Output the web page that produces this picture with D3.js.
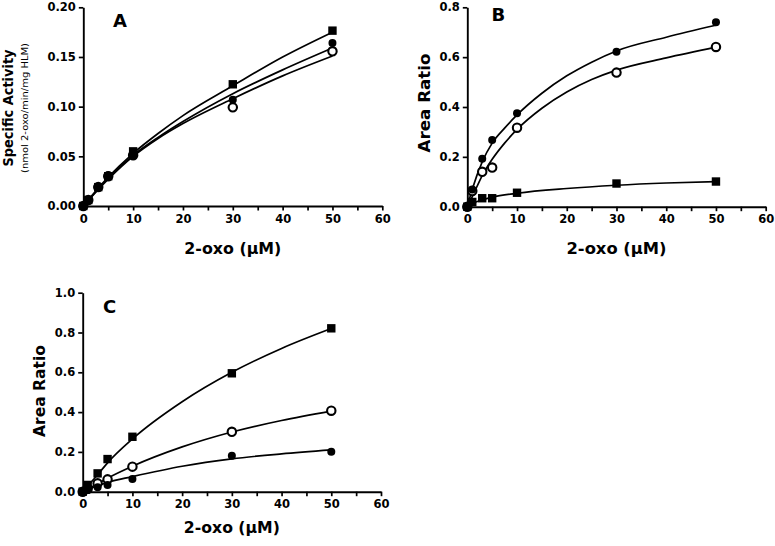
<!DOCTYPE html>
<html>
<head>
<meta charset="utf-8">
<script src="https://cdn.jsdelivr.net/npm/d3@7"></script>
<style>
  html, body { margin: 0; padding: 0; background: #fff; }
  svg { display: block; }
  text { font-family: "DejaVu Sans", "Liberation Sans", Arial, sans-serif; font-weight: bold; fill: #000; }
</style>
</head>
<body>
<svg id="chart" width="775" height="546"></svg>
<script>
// ---------- DATA ----------
const xConc = [0, 1, 3, 5, 10, 30, 50];

// Panel A: specific activity
const aSquare = [0, 0.006, 0.019, 0.030, 0.055, 0.1225, 0.1765];
const aFilled = [0, 0.006, 0.019, 0.031, 0.051, 0.107, 0.164];
const aOpen   = [0, 0.006, 0.019, 0.030, 0.051, 0.0993, 0.1557];
const aCurveX = [0, 5, 10, 15, 20, 30, 40, 50];
const aCurveSquare = [0, 0.029, 0.053, 0.073, 0.091, 0.121, 0.150, 0.175];
const aCurveFilled = [0, 0.028, 0.051, 0.069, 0.085, 0.113, 0.137, 0.159];
const aCurveOpen   = [0, 0.027, 0.050, 0.068, 0.083, 0.108, 0.131, 0.151];

// Panel B: area ratio
const bFilled = [0, 0.069, 0.192, 0.268, 0.375, 0.622, 0.740];
const bOpen   = [0, 0.063, 0.140, 0.157, 0.317, 0.538, 0.641];
const bSquare = [0, 0.019, 0.034, 0.034, 0.056, 0.093, 0.101];
const bCurveX = [0, 1, 3, 5, 7.5, 10, 15, 20, 25, 30, 40, 50];
const bCurveFilled = [0, 0.07, 0.18, 0.255, 0.315, 0.368, 0.455, 0.525, 0.58, 0.625, 0.68, 0.728];
const bCurveOpen   = [0, 0.04, 0.125, 0.19, 0.255, 0.31, 0.395, 0.46, 0.51, 0.548, 0.597, 0.64];
const bCurveSqX = [0, 1, 3, 5, 10, 20, 30, 40, 50];
const bCurveSquare = [0, 0.012, 0.028, 0.038, 0.054, 0.073, 0.086, 0.095, 0.101];

// Panel C: area ratio
const cSquare = [0, 0.034, 0.092, 0.164, 0.276, 0.595, 0.821];
const cOpen   = [0, 0.015, 0.042, 0.062, 0.126, 0.301, 0.407];
const cFilled = [0, 0.008, 0.022, 0.034, 0.064, 0.181, 0.201];
const cCurveX = [0, 3, 5, 10, 20, 30, 40, 50];
const cCurveSquare = [0, 0.085, 0.145, 0.265, 0.452, 0.600, 0.720, 0.820];
const cCurveOpen   = [0, 0.040, 0.068, 0.128, 0.225, 0.300, 0.358, 0.405];
const cCurveFilled = [0, 0.030, 0.047, 0.076, 0.128, 0.165, 0.190, 0.210];

// Axis ticks
const xTicks = [0, 5, 10, 15, 20, 25, 30, 35, 40, 45, 50, 55, 60];
const aYTicks = [0, 0.05, 0.10, 0.15, 0.20];
const bYTicks = [0, 0.2, 0.4, 0.6, 0.8];
const cYTicks = [0, 0.2, 0.4, 0.6, 0.8, 1.0];

const xTitle = "2-oxo (\u03BCM)";
const panelLetters = ["A", "B", "C"];
const aYTitle = "Specific Activity";
const aYSub = "(nmol 2-oxo/min/mg HLM)";
const bcYTitle = "Area Ratio";

// ---------- DRAWING ----------
const svg = d3.select("#chart");

function panel(cfg) {
  const x = d3.scaleLinear().domain([0, 60]).range([cfg.x0, cfg.x1]);
  const y = d3.scaleLinear().domain([0, cfg.ymax]).range([cfg.y0, cfg.y1]);
  const g = svg.append("g");

  // axes
  const xa = g.append("g").attr("transform", `translate(0,${cfg.y0})`)
    .call(d3.axisBottom(x).tickValues(xTicks).tickSize(4.5).tickSizeOuter(0).tickPadding(4)
      .tickFormat(d => d % 10 === 0 ? d3.format("d")(d) : ""));
  const ya = g.append("g").attr("transform", `translate(${cfg.x0},0)`)
    .call(d3.axisLeft(y).tickValues(cfg.yTicks).tickSize(4.5).tickSizeOuter(0).tickPadding(3)
      .tickFormat(d3.format(cfg.yFmt)));
  [xa, ya].forEach(a => {
    a.select(".domain").attr("stroke", "#000").attr("stroke-width", 1.9);
    a.selectAll(".tick line").attr("stroke", "#000").attr("stroke-width", 1.7);
    a.selectAll(".tick text").style("font-size", "11.5px").style("font-weight", "bold")
      .style("font-family", '"DejaVu Sans", sans-serif').attr("fill", "#000");
  });

  // curves
  const line = d3.line().x(d => x(d[0])).y(d => y(d[1])).curve(d3.curveMonotoneX);
  cfg.curves.forEach(c => {
    g.append("path").datum(d3.zip(c.xs, c.ys)).attr("d", line)
      .attr("fill", "none").attr("stroke", "#000").attr("stroke-width", 1.7);
  });

  // points
  cfg.series.forEach(s => {
    const pts = d3.zip(xConc, s.ys);
    if (s.shape === "square") {
      g.selectAll(null).data(pts).enter().append("rect")
        .attr("x", d => x(d[0]) - 4.2).attr("y", d => y(d[1]) - 4.2)
        .attr("width", 8.4).attr("height", 8.4).attr("fill", "#000");
    } else if (s.shape === "filled") {
      g.selectAll(null).data(pts).enter().append("circle")
        .attr("cx", d => x(d[0])).attr("cy", d => y(d[1])).attr("r", 4).attr("fill", "#000");
    } else {
      g.selectAll(null).data(pts).enter().append("circle")
        .attr("cx", d => x(d[0])).attr("cy", d => y(d[1])).attr("r", 4.2)
        .attr("fill", "#fff").attr("stroke", "#000").attr("stroke-width", 2.1);
    }
  });

  // panel letter
  g.append("text").attr("x", cfg.letterX).attr("y", cfg.letterY)
    .style("font-size", "18px").text(cfg.letter);

  // x title
  g.append("text").attr("x", (cfg.x0 + cfg.x1) / 2).attr("y", cfg.xTitleY)
    .attr("text-anchor", "middle").style("font-size", "15.5px")
    .attr("textLength", cfg.xTitleLen).attr("lengthAdjust", "spacingAndGlyphs")
    .text(xTitle);

  // y title
  g.append("text").attr("transform", `translate(${cfg.yTitleX},${cfg.yTitleCy}) rotate(-90)`)
    .attr("text-anchor", "middle").style("font-size", cfg.yTitleSize)
    .attr("textLength", cfg.yTitleLen).attr("lengthAdjust", "spacingAndGlyphs")
    .text(cfg.yTitle);
  if (cfg.ySub) {
    g.append("text").attr("transform", `translate(${cfg.ySubX},${cfg.yTitleCy}) rotate(-90)`)
      .attr("text-anchor", "middle").style("font-size", "8.5px").style("font-weight", "normal")
      .attr("textLength", 130).attr("lengthAdjust", "spacingAndGlyphs")
      .text(cfg.ySub);
  }
}

panel({
  x0: 83.3, x1: 382.3, y0: 206, y1: 7.3, ymax: 0.20, yTicks: aYTicks, yFmt: ".2f",
  letter: panelLetters[0], letterX: 113, letterY: 26.5,
  xTitleY: 253.5, xTitleLen: 97,
  yTitle: aYTitle, yTitleX: 12.5, yTitleCy: 108, yTitleLen: 117, yTitleSize: "13.5px",
  ySub: aYSub, ySubX: 28,
  curves: [
    { xs: aCurveX, ys: aCurveSquare },
    { xs: aCurveX, ys: aCurveFilled },
    { xs: aCurveX, ys: aCurveOpen }
  ],
  series: [
    { ys: aOpen, shape: "open" },
    { ys: aFilled, shape: "filled" },
    { ys: aSquare, shape: "square" }
  ]
});

panel({
  x0: 467.3, x1: 765.7, y0: 206.7, y1: 7.3, ymax: 0.8, yTicks: bYTicks, yFmt: ".1f",
  letter: panelLetters[1], letterX: 491.5, letterY: 20.7,
  xTitleY: 253.5, xTitleLen: 100,
  yTitle: bcYTitle, yTitleX: 430, yTitleCy: 103, yTitleLen: 99, yTitleSize: "16.5px",
  curves: [
    { xs: bCurveX, ys: bCurveFilled },
    { xs: bCurveX, ys: bCurveOpen },
    { xs: bCurveSqX, ys: bCurveSquare }
  ],
  series: [
    { ys: bOpen, shape: "open" },
    { ys: bFilled, shape: "filled" },
    { ys: bSquare, shape: "square" }
  ]
});

panel({
  x0: 82.7, x1: 381, y0: 491.7, y1: 292.7, ymax: 1.0, yTicks: cYTicks, yFmt: ".1f",
  letter: panelLetters[2], letterX: 103, letterY: 313,
  xTitleY: 533, xTitleLen: 96,
  yTitle: bcYTitle, yTitleX: 45, yTitleCy: 391, yTitleLen: 92, yTitleSize: "16px",
  curves: [
    { xs: cCurveX, ys: cCurveSquare },
    { xs: cCurveX, ys: cCurveOpen },
    { xs: cCurveX, ys: cCurveFilled }
  ],
  series: [
    { ys: cOpen, shape: "open" },
    { ys: cFilled, shape: "filled" },
    { ys: cSquare, shape: "square" }
  ]
});
</script>
</body>
</html>
